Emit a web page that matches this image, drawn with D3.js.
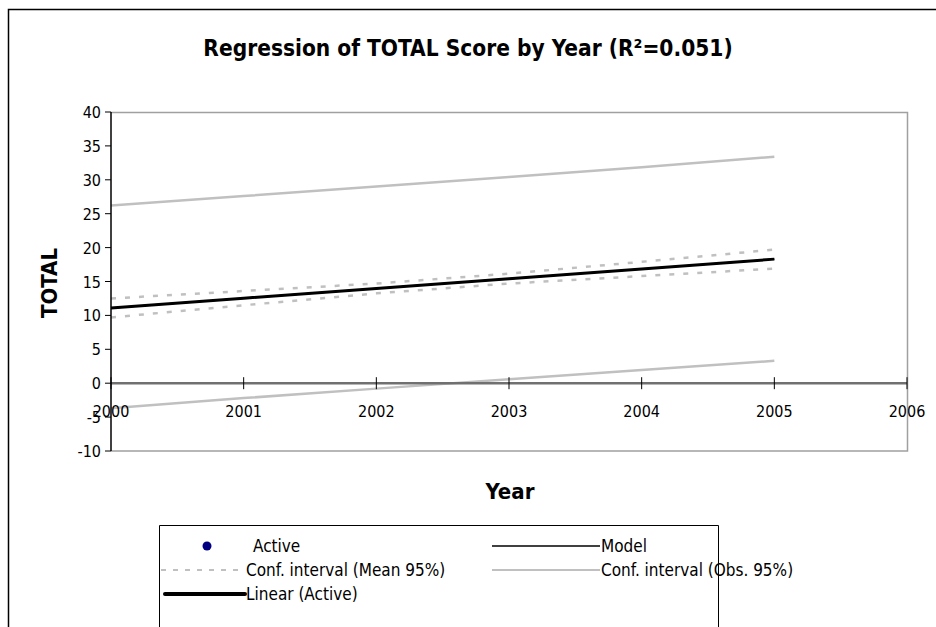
<!DOCTYPE html>
<html><head><meta charset="utf-8">
<script src="https://cdn.jsdelivr.net/npm/d3@7"></script>
<style>body{margin:0;background:#fff}svg{display:block}text{font-family:"DejaVu Sans Condensed","DejaVu Sans",Verdana,sans-serif;font-stretch:condensed}</style>
</head><body>
<script>
const years = [2000, 2001, 2002, 2003, 2004, 2005];
const model = [11.1, 12.54, 13.98, 15.42, 16.86, 18.3];
const meanLower = [9.7, 11.5, 13.25, 14.7, 15.8, 16.9];
const meanUpper = [12.5, 13.6, 14.7, 16.15, 17.9, 19.7];
const obsLower = [-3.7, -2.2, -0.8, 0.6, 1.95, 3.3];
const obsUpper = [26.2, 27.6, 29.0, 30.4, 31.85, 33.4];
const xTicks = [2000, 2001, 2002, 2003, 2004, 2005, 2006];
const yTicks = [-10, -5, 0, 5, 10, 15, 20, 25, 30, 35, 40];
const legendItems = ["Active", "Model", "Conf. interval (Mean 95%)", "Conf. interval (Obs. 95%)", "Linear (Active)"];
const title = "Regression of TOTAL Score by Year (R²=0.051)";

const W = 936, H = 627;
const svg = d3.select("body").append("svg").attr("width", W).attr("height", H);
const x = d3.scaleLinear().domain([2000, 2006]).range([111, 907]);
const y = d3.scaleLinear().domain([-10, 40]).range([451, 112]);

// outer frame
svg.append("path").attr("d", "M8.5,627 L8.5,9.5 L936,9.5").attr("fill", "none").attr("stroke", "#000").attr("stroke-width", 1.5);

// title
svg.append("text").attr("x", 468).attr("y", 56).attr("text-anchor", "middle")
  .attr("font-size", 22.5).attr("font-weight", "bold").text(title);

// plot border
svg.append("path").attr("d", `M${x(2000)},${y(40)+0.5} L${x(2006)+0.5},${y(40)+0.5} L${x(2006)+0.5},${y(-10)} L${x(2000)},${y(-10)}`)
  .attr("fill", "none").attr("stroke", "#a0a0a0").attr("stroke-width", 1.5);

const line = d3.line().x((d, i) => x(years[i])).y(d => y(d));
const g = svg.append("g");
g.append("path").datum(obsUpper).attr("d", line).attr("fill", "none").attr("stroke", "#c0c0c0").attr("stroke-width", 2.5);
g.append("path").datum(obsLower).attr("d", line).attr("fill", "none").attr("stroke", "#c0c0c0").attr("stroke-width", 2.5);
g.append("path").datum(meanUpper).attr("d", line).attr("fill", "none").attr("stroke", "#c0c0c0").attr("stroke-width", 2.5).attr("stroke-dasharray", "5,9");
g.append("path").datum(meanLower).attr("d", line).attr("fill", "none").attr("stroke", "#c0c0c0").attr("stroke-width", 2.5).attr("stroke-dasharray", "5,9");

// x axis at zero
const xAxis = svg.append("g").attr("transform", `translate(0,${y(0)})`);
xAxis.append("line").attr("x1", x(2000)).attr("x2", x(2006)).attr("stroke", "#707070").attr("stroke-width", 2.5);
xAxis.selectAll("line.t").data(xTicks).join("line").attr("class", "t")
  .attr("x1", d => x(d)).attr("x2", d => x(d)).attr("y1", -6).attr("y2", 6).attr("stroke", "#000").attr("stroke-width", 1);
xAxis.selectAll("text").data(xTicks).join("text").attr("x", d => x(d)).attr("y", 34)
  .attr("text-anchor", "middle").attr("font-size", 16).text(d => d);

// model + trend
g.append("path").datum(model).attr("d", line).attr("fill", "none").attr("stroke", "#000").attr("stroke-width", 1.5);
g.append("path").datum(model).attr("d", line).attr("fill", "none").attr("stroke", "#000").attr("stroke-width", 3);

// y axis
const yAxis = svg.append("g").attr("transform", `translate(${x(2000)},0)`);
yAxis.append("line").attr("y1", y(-10)).attr("y2", y(40)).attr("stroke", "#000").attr("stroke-width", 1.5);
yAxis.selectAll("line.t").data(yTicks).join("line").attr("class", "t")
  .attr("x1", -6).attr("x2", 0).attr("y1", d => y(d)).attr("y2", d => y(d)).attr("stroke", "#000").attr("stroke-width", 1);
yAxis.selectAll("text").data(yTicks).join("text").attr("x", -10).attr("y", d => y(d) + 6)
  .attr("text-anchor", "end").attr("font-size", 16).text(d => d);

// axis titles
svg.append("text").attr("x", 510).attr("y", 499).attr("text-anchor", "middle").attr("font-size", 22).attr("font-weight", "bold").text("Year");
svg.append("text").attr("transform", "translate(57,283) rotate(-90)").attr("text-anchor", "middle").attr("font-size", 22).attr("font-weight", "bold").text("TOTAL");

// legend
const lg = svg.append("g");
lg.append("path").attr("d", "M159.5,627 L159.5,525.5 L718.5,525.5 L718.5,627").attr("fill", "#fff").attr("stroke", "#000").attr("stroke-width", 1);
const rowY = [546, 570, 594];
const pos = [
  {tx: 253, ty: rowY[0]}, {tx: 601, ty: rowY[0]},
  {tx: 246, ty: rowY[1]}, {tx: 601, ty: rowY[1]},
  {tx: 246, ty: rowY[2]}
];
lg.selectAll("text").data(legendItems).join("text")
  .attr("x", (d, i) => pos[i].tx).attr("y", (d, i) => pos[i].ty + 6)
  .attr("font-size", 17).text(d => d);
lg.append("circle").attr("cx", 207).attr("cy", rowY[0]).attr("r", 4.5).attr("fill", "#000080");
lg.append("line").attr("x1", 492).attr("x2", 600).attr("y1", rowY[0]).attr("y2", rowY[0]).attr("stroke", "#000").attr("stroke-width", 1.5);
lg.append("line").attr("x1", 161).attr("x2", 245).attr("y1", rowY[1]).attr("y2", rowY[1]).attr("stroke", "#c0c0c0").attr("stroke-width", 2).attr("stroke-dasharray", "5,7");
lg.append("line").attr("x1", 492).attr("x2", 600).attr("y1", rowY[1]).attr("y2", rowY[1]).attr("stroke", "#c0c0c0").attr("stroke-width", 2);
lg.append("line").attr("x1", 165).attr("x2", 245).attr("y1", rowY[2]).attr("y2", rowY[2]).attr("stroke", "#000").attr("stroke-width", 4).attr("stroke-linecap", "round");
</script>
</body></html>
